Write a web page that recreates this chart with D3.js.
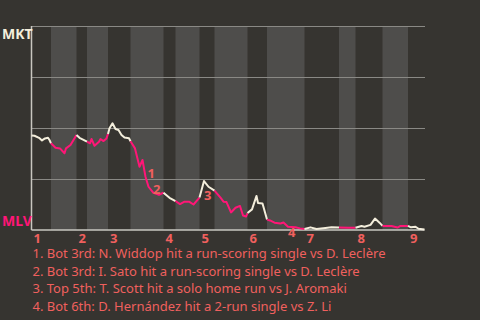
<html>
<head>
<meta charset="utf-8">
<style>
  body { margin: 0; background: #363430; }
  svg { display: block; }
  .grid line { stroke: #8a8985; stroke-width: 1; shape-rendering: crispEdges; }
  .grid path { stroke-width: 0; }
  .team { font-family: "Noto Sans", sans-serif; font-weight: bold; font-size: 14px; }
  .inning { font-family: "Noto Sans", sans-serif; font-weight: bold; font-size: 13px; fill: #f0605e; }
  .note { font-family: "Noto Sans", sans-serif; font-size: 13px; fill: #f0605e; }
</style>
</head>
<body>
<script src="https://cdn.jsdelivr.net/npm/d3@7"></script>
<script>
// play index (x) and away-team (MKT) win probability in percent (y)
var plays = [0, 2, 5, 7, 9, 11, 12, 13, 16, 19, 22, 23, 26, 28, 30, 32, 35, 37, 39, 40,
  42, 45, 46, 48, 50, 51, 52, 54, 56, 58, 60, 62, 65, 66, 69, 72, 74, 76, 78, 81,
  85, 87, 88, 92, 96, 99, 102, 105, 108, 112, 115, 118, 122, 126, 128, 130, 133, 136, 139, 141,
  143, 144, 147, 150, 151, 154, 157, 159, 162, 166, 168, 171, 176, 179, 182, 186, 190, 196, 200, 205,
  211, 216, 220, 222, 226, 229, 232, 234, 240, 244, 246, 251, 253, 256, 258, 262];
var winProb = [46.3, 46.2, 45.2, 43.9, 44.9, 45.2, 44.1, 42.5, 40.3, 40.0, 37.6, 40.0, 41.7, 44.1, 46.6, 45.2, 44.1, 43.3, 42.5, 44.6,
  41.3, 43.3, 44.6, 43.6, 44.9, 47.1, 49.9, 52.3, 49.5, 49.0, 46.6, 45.3, 45.0, 43.5, 40.0, 31.0, 34.3, 26.1, 21.2, 18.4,
  17.2, 18.0, 18.3, 15.8, 14.2, 12.7, 13.9, 13.9, 12.5, 15.9, 24.0, 21.2, 19.3, 15.9, 13.9, 13.7, 8.6, 10.9, 11.8, 7.1,
  6.6, 8.3, 10.1, 16.7, 13.2, 13.0, 5.1, 4.7, 3.6, 3.2, 3.7, 1.6, 1.3, 0.8, 0.5, 1.3, 0.5, 1.0, 1.3, 1.2,
  1.1, 1.1, 2.0, 1.6, 2.5, 5.6, 3.6, 2.0, 2.0, 1.2, 2.0, 2.0, 1.3, 1.6, 0.6, 0.3];

// half-inning start play index; even = top (MKT batting), odd = bottom (MLV batting)
var halfStarts = [0, 13, 30, 37, 51, 66, 88, 96, 112, 122, 144, 157, 182, 205, 216, 234, 251];
var lastPlay = 262;
var innings = ["1", "2", "3", "4", "5", "6", "7", "8", "9"];

var teams = ["MKT", "MLV"];
var teamColors = ["#f4eedc", "#ff1677"];

// annotated plays
var notePlays = [74, 78, 115, 171];
var noteTexts = [
  "1. Bot 3rd: N. Widdop hit a run-scoring single vs D. Leclère",
  "2. Bot 3rd: I. Sato hit a run-scoring single vs D. Leclère",
  "3. Top 5th: T. Scott hit a solo home run vs J. Aromaki",
  "4. Bot 6th: D. Hernández hit a 2-run single vs Z. Li"
];

var width = 480, height = 320,
  margin = {top: 26, right: 55.5, bottom: 90, left: 31.5},
  w = width - margin.left - margin.right,
  h = height - margin.top - margin.bottom;

var svg = d3.select("body").append("svg")
  .attr("width", width)
  .attr("height", height);

svg.append("rect").attr("width", width).attr("height", height).attr("fill", "#363430");

var g = svg.append("g")
  .attr("transform", "translate(" + margin.left + "," + margin.top + ")");

var x = d3.scaleLinear().domain([0, lastPlay]).range([0, w]);
var y = d3.scaleLinear().domain([0, 100]).range([h, 0]);

// bottom half-inning bands
var halves = halfStarts.map(function(s, i) {
  return {start: s, end: i + 1 < halfStarts.length ? halfStarts[i + 1] : lastPlay, idx: i};
});
g.selectAll(".band")
  .data(halves.filter(function(d) { return d.idx % 2 == 1; }))
  .enter().append("rect")
  .attr("class", "band")
  .attr("x", function(d) { return x(d.start); })
  .attr("width", function(d) { return x(d.end) - x(d.start); })
  .attr("y", 0)
  .attr("height", h)
  .attr("fill", "#4e4d4b");

// gridlines
g.append("g")
  .attr("class", "grid")
  .call(d3.axisLeft(y).tickValues([25, 50, 75, 100]).tickSize(-w).tickFormat(""));

// axis lines
g.append("line").attr("x1", 0).attr("x2", w).attr("y1", h).attr("y2", h)
  .attr("stroke", "#c9c7c0").attr("stroke-width", 1.5);
g.append("line").attr("x1", 0).attr("x2", 0).attr("y1", 0).attr("y2", h)
  .attr("stroke", "#c9c7c0").attr("stroke-width", 1.5);

// win probability line, coloured by the half-inning of each segment
var data = plays.map(function(p, i) { return {play: p, wp: winProb[i]}; });
function halfOf(p) {
  var k = 0;
  for (var i = 0; i < halfStarts.length; i++) if (p > halfStarts[i]) k = i;
  return k;
}
var runs = [];
for (var i = 1; i < data.length; i++) {
  var c = halfOf(data[i].play) % 2;
  if (runs.length && runs[runs.length - 1].c == c) runs[runs.length - 1].pts.push(data[i]);
  else runs.push({c: c, pts: [data[i - 1], data[i]]});
}
var line = d3.line()
  .x(function(d) { return x(d.play); })
  .y(function(d) { return y(d.wp); });
g.selectAll(".wp")
  .data(runs)
  .enter().append("path")
  .attr("class", "wp")
  .attr("fill", "none")
  .attr("stroke", function(d) { return teamColors[d.c]; })
  .attr("stroke-width", 2)
  .attr("stroke-linejoin", "round")
  .attr("d", function(d) { return line(d.pts); });

// annotation numbers
var noteOffsets = [[5, 18], [4.5, 7], [0, 19], [0, 10.5]];
g.selectAll(".num")
  .data(notePlays)
  .enter().append("text")
  .attr("class", "inning")
  .attr("x", function(d, i) {
    return x(d) + noteOffsets[i][0];
  })
  .attr("y", function(d, i) {
    var k = plays.indexOf(d);
    return y(winProb[k]) + noteOffsets[i][1];
  })
  .text(function(d, i) { return i + 1; });

// inning labels
g.selectAll(".inn")
  .data(innings)
  .enter().append("text")
  .attr("class", "inning")
  .attr("x", function(d, i) { return x(halfStarts[i * 2]) + 2; })
  .attr("y", h + 12.7)
  .text(function(d) { return d; });

// team labels
svg.append("text").attr("class", "team")
  .attr("x", 2).attr("y", margin.top + 12.5)
  .attr("fill", teamColors[0]).text(teams[0]);
svg.append("text").attr("class", "team")
  .attr("x", 2).attr("y", margin.top + h - 4.5)
  .attr("fill", teamColors[1]).text(teams[1]);

// notes
svg.selectAll(".note")
  .data(noteTexts)
  .enter().append("text")
  .attr("class", "note")
  .attr("x", margin.left + 1)
  .attr("y", function(d, i) { return 258 + i * 17.7; })
  .text(function(d) { return d; });
</script>
</body>
</html>
